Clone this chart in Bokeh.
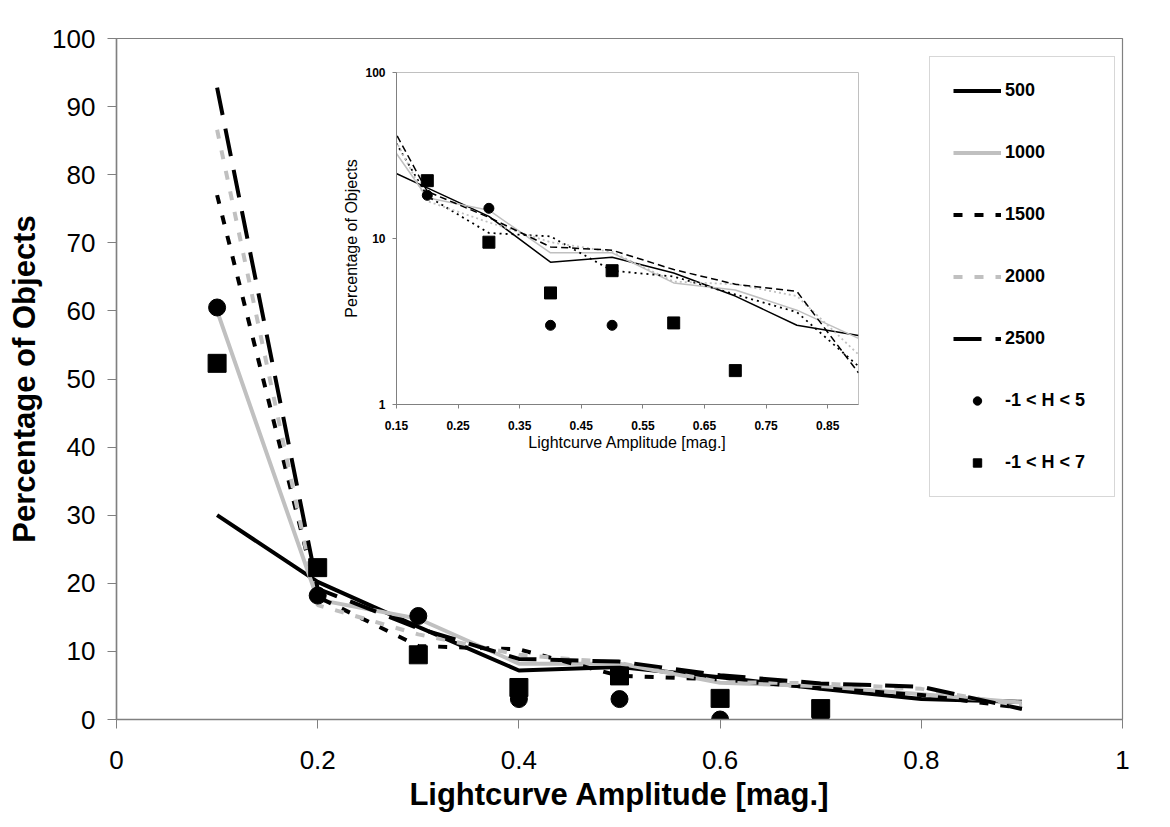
from bokeh.plotting import figure
from bokeh.layouts import column
from bokeh.models import (Range1d, FixedTicker, Legend, LegendItem)
from bokeh.embed import file_html
from bokeh.resources import INLINE

# ---------------- data ----------------
amp = [0.1, 0.2, 0.3, 0.4, 0.5, 0.6, 0.7, 0.8, 0.9]
s500 = [30.0, 20.2, 13.6, 7.2, 7.7, 6.2, 4.5, 3.0, 2.6]
s1000 = [60.0, 17.6, 14.8, 8.2, 8.2, 5.4, 4.9, 3.7, 2.5]
s1500 = [77.0, 18.0, 10.8, 10.3, 6.4, 5.9, 4.6, 3.6, 1.7]
s2000 = [86.6, 16.8, 12.5, 9.5, 8.3, 5.5, 5.3, 4.5, 2.0]
s2500 = [92.8, 19.2, 13.4, 8.9, 8.5, 6.5, 5.3, 4.8, 1.55]

obs_amp = [0.1, 0.2, 0.3, 0.4, 0.5, 0.6, 0.7]
obs_h5 = [60.5, 18.2, 15.2, 3.0, 3.0, 0.0, 0.0]
obs_h7 = [52.3, 22.3, 9.5, 4.7, 6.4, 3.1, 1.6]

series_names = ["500", "1000", "1500", "2000", "2500"]
marker_names = ["-1 < H < 5", "-1 < H < 7"]

x_ticks = [0, 0.2, 0.4, 0.6, 0.8, 1.0]
x_tick_labels = ["0", "0.2", "0.4", "0.6", "0.8", "1"]
y_ticks = [0, 10, 20, 30, 40, 50, 60, 70, 80, 90, 100]

inset_x_ticks = [0.15, 0.25, 0.35, 0.45, 0.55, 0.65, 0.75, 0.85]
inset_x_labels = ["0.15", "0.25", "0.35", "0.45", "0.55", "0.65", "0.75", "0.85"]
inset_y_ticks = [1, 10, 100]
inset_y_labels = ["1", "10", "100"]

FONT = "Liberation Sans"
BLACK = "#000000"
GRAY = "#c0c0c0"
AXIS = "#808080"

BL, BR, BT, BB = 116, 38, 38, 95

# ---------------- main figure ----------------
p = figure(frame_width=1006, frame_height=681,
           min_border_left=BL, min_border_right=BR,
           min_border_top=BT, min_border_bottom=BB,
           x_range=Range1d(0, 1), y_range=Range1d(0, 100),
           output_backend="svg", toolbar_location=None)
p.grid.visible = False
p.outline_line_color = AXIS
p.outline_line_width = 1.2

p.xaxis.ticker = FixedTicker(ticks=x_ticks, minor_ticks=[])
p.xaxis.major_label_overrides = {t: l for t, l in zip(x_ticks, x_tick_labels)}
p.yaxis.ticker = FixedTicker(ticks=y_ticks, minor_ticks=[])
for ax in (p.xaxis, p.yaxis):
    ax.axis_line_color = AXIS
    ax.axis_line_width = 1.5
    ax.major_tick_line_color = AXIS
    ax.major_tick_in = 0
    ax.major_tick_out = 9
    ax.major_label_text_font = FONT
    ax.major_label_text_font_size = "26px"
    ax.major_label_text_color = BLACK
    ax.axis_label_text_font = FONT
    ax.axis_label_text_font_size = "31px"
    ax.axis_label_text_font_style = "bold"
    ax.axis_label_text_color = BLACK
p.xaxis.axis_label = "Lightcurve Amplitude [mag.]"
p.yaxis.axis_label = "Percentage of Objects"
p.xaxis.major_label_standoff = 22
p.yaxis.major_label_standoff = 12
p.xaxis.axis_label_standoff = 5
p.yaxis.axis_label_standoff = 7

r500 = p.line(amp, s500, line_color=BLACK, line_width=4)
r1000 = p.line(amp, s1000, line_color=GRAY, line_width=4)
r1500 = p.line(amp, s1500, line_color=BLACK, line_width=4, line_dash="9 12")
r2000 = p.line(amp, s2000, line_color=GRAY, line_width=4, line_dash="9 12")
r2500 = p.line(amp, s2500, line_color=BLACK, line_width=4, line_dash="28 14")
rh5 = p.scatter(obs_amp, obs_h5, marker="circle", size=17, color=BLACK)
rh7 = p.scatter(obs_amp, obs_h7, marker="square", size=18, color=BLACK)

renderers = [r500, r1000, r1500, r2000, r2500, rh5, rh7]
labels = series_names + marker_names
legend = Legend(items=[LegendItem(label=l, renderers=[r]) for l, r in zip(labels, renderers)],
                location=(813, 222), orientation="vertical",
                glyph_width=48, glyph_height=21, label_height=21, label_width=86,
                label_standoff=4, spacing=41, padding=23, margin=0,
                label_text_font=FONT, label_text_font_size="18px",
                label_text_font_style="bold", label_text_color=BLACK,
                border_line_color="#b0b0b0", border_line_width=1,
                background_fill_color="white", background_fill_alpha=1)
p.add_layout(legend)

# ---------------- inset figure ----------------
q = figure(frame_width=462, frame_height=332,
           min_border_left=BL, min_border_right=BR,
           min_border_top=13, min_border_bottom=50,
           x_range=Range1d(0.15, 0.9), y_range=Range1d(1, 100),
           y_axis_type="log",
           output_backend="svg", toolbar_location=None,
           styles={"position": "absolute", "left": "280px", "top": "59px"})
q.grid.visible = False
q.outline_line_color = GRAY
q.border_fill_alpha = 0
q.xaxis.ticker = FixedTicker(ticks=inset_x_ticks, minor_ticks=[])
q.xaxis.major_label_overrides = {t: l for t, l in zip(inset_x_ticks, inset_x_labels)}
q.yaxis.ticker = FixedTicker(ticks=inset_y_ticks, minor_ticks=[])
q.yaxis.major_label_overrides = {t: l for t, l in zip(inset_y_ticks, inset_y_labels)}
for ax in (q.xaxis, q.yaxis):
    ax.axis_line_color = AXIS
    ax.major_tick_line_color = AXIS
    ax.major_tick_in = 0
    ax.major_tick_out = 4
    ax.minor_tick_line_color = None
    ax.major_label_text_font = FONT
    ax.major_label_text_font_size = "12px"
    ax.major_label_text_font_style = "bold"
    ax.major_label_text_color = BLACK
    ax.axis_label_text_font = FONT
    ax.axis_label_text_font_size = "16px"
    ax.axis_label_text_font_style = "normal"
    ax.axis_label_text_color = BLACK
q.xaxis.axis_label = "Lightcurve Amplitude [mag.]"
q.yaxis.axis_label = "Percentage of Objects"
q.xaxis.major_label_standoff = 12
q.yaxis.major_label_standoff = 7
q.xaxis.axis_label_standoff = 1
q.yaxis.axis_label_standoff = 2

q.line(amp, s500, line_color=BLACK, line_width=1.5)
q.line(amp, s1000, line_color=GRAY, line_width=1.5)
q.line(amp, s1500, line_color=BLACK, line_width=1.8, line_dash="2 4")
q.line(amp, s2000, line_color=GRAY, line_width=1.8, line_dash="2 3")
q.line(amp, s2500, line_color=BLACK, line_width=1.5, line_dash="7 4")
h5x = [a for a, v in zip(obs_amp, obs_h5) if v > 0]
h5y = [v for v in obs_h5 if v > 0]
h7x = [a for a, v in zip(obs_amp, obs_h7) if v > 0]
h7y = [v for v in obs_h7 if v > 0]
q.scatter(h5x, h5y, marker="circle", size=10, color=BLACK)
q.scatter(h7x, h7y, marker="square", size=12, color=BLACK)

layout = column(p, q)
open("out.html", "w").write(file_html(layout, INLINE))
